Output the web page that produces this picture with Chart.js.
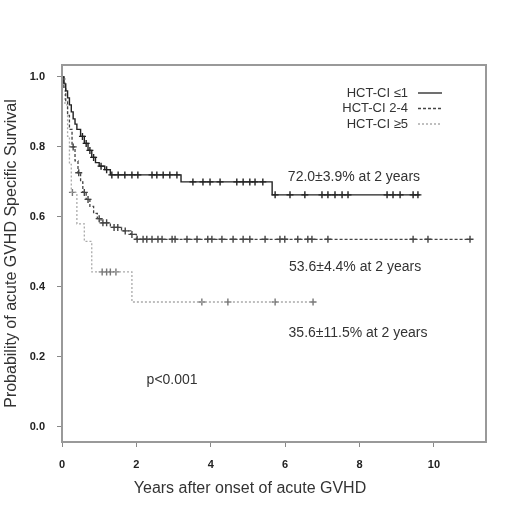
<!DOCTYPE html>
<html>
<head>
<meta charset="utf-8">
<script src="https://cdn.jsdelivr.net/npm/chart.js@4"></script>
<style>
  body { margin: 0; background: #fff; }
  #wrap { width: 520px; height: 520px; }
</style>
</head>
<body>
<div id="wrap"><canvas id="kmChart" width="520" height="520"></canvas></div>
<script>
// Kaplan-Meier: survie specifique GVHD par groupe HCT-CI
const groupes = ['HCT-CI \u22641', 'HCT-CI 2-4', 'HCT-CI \u22655'];

const temps1 = [0, 0.05, 0.1, 0.15, 0.2, 0.25, 0.3, 0.35, 0.4, 0.5, 0.6, 0.7, 0.8, 0.9, 1.0, 1.15, 1.3, 3.2, 5.65, 9.62];
const surv1  = [1.0, 0.98, 0.96, 0.94, 0.92, 0.90, 0.88, 0.865, 0.85, 0.83, 0.81, 0.79, 0.77, 0.755, 0.745, 0.735, 0.72, 0.70, 0.663, 0.663];
const censure1 = [0.55, 0.65, 0.75, 0.85, 1.05, 1.2, 1.34, 1.51, 1.69, 1.88, 2.04, 2.42, 2.55, 2.72, 2.9, 3.09,
  3.52, 3.79, 3.98, 4.25, 4.7, 4.87, 5.05, 5.19, 5.4,
  5.73, 6.13, 6.53, 6.99, 7.15, 7.34, 7.53, 7.69, 8.74, 8.9, 9.09, 9.44, 9.57];

const temps2 = [0, 0.05, 0.1, 0.15, 0.2, 0.27, 0.35, 0.43, 0.5, 0.56, 0.65, 0.75, 0.85, 0.95, 1.05, 1.3, 1.6, 1.85, 2.0, 10.97];
const surv2  = [1.0, 0.97, 0.93, 0.89, 0.85, 0.80, 0.76, 0.726, 0.70, 0.67, 0.65, 0.63, 0.61, 0.595, 0.583, 0.57, 0.56, 0.55, 0.536, 0.536];
const censure2 = [0.3, 0.45, 0.6, 0.7, 1.0, 1.1, 1.2, 1.4, 1.5, 1.7, 1.88, 2.02, 2.18, 2.28, 2.42, 2.58, 2.69, 2.96, 3.04,
  3.36, 3.63, 3.92, 4.03, 4.3, 4.6, 4.87, 5.05, 5.46, 5.86, 5.99, 6.34, 6.61, 6.72, 7.15, 9.44, 9.84, 10.97];

const temps3 = [0, 0.08, 0.15, 0.2, 0.25, 0.4, 0.6, 0.8, 1.88, 6.75];
const surv3  = [1.0, 0.92, 0.83, 0.75, 0.67, 0.58, 0.53, 0.443, 0.357, 0.357];
const censure3 = [0.28, 1.08, 1.2, 1.3, 1.45, 3.76, 4.46, 5.73, 6.75];

const xTicks = [0, 2, 4, 6, 8, 10];
const yTicks = [0, 0.2, 0.4, 0.6, 0.8, 1.0];

const titreX = 'Years after onset of acute GVHD';
const titreY = 'Probability of acute GVHD Specific Survival';

const annotations = [
  { text: '72.0\u00b13.9% at 2 years', x: 7.85, y: 0.714 },
  { text: '53.6\u00b14.4% at 2 years', x: 7.88, y: 0.457 },
  { text: '35.6\u00b111.5% at 2 years', x: 7.96, y: 0.269 },
  { text: 'p<0.001', x: 2.96, y: 0.134 }
];

const couleurs = ['#222222', '#444444', '#aaaaaa'];
const tirets = [[], [3, 2], [2, 2]];

// valeur de la courbe au temps t (fonction en escalier)
function valeurA(temps, surv, t) {
  let v = surv[0];
  for (let i = 0; i < temps.length; i++) {
    if (temps[i] <= t) v = surv[i];
  }
  return v;
}

const courbes = [[temps1, surv1, censure1], [temps2, surv2, censure2], [temps3, surv3, censure3]];
const datasets = [];
courbes.forEach(([t, s, c], i) => {
  datasets.push({
    label: groupes[i],
    data: t.map((x, k) => ({ x: x, y: s[k] })),
    borderColor: couleurs[i],
    borderWidth: i === 0 ? 1.4 : 1.3,
    borderDash: tirets[i],
    stepped: 'before',
    pointRadius: 0,
    fill: false,
    showLine: true
  });
  datasets.push({
    label: groupes[i] + ' censure',
    data: c.map(x => ({ x: x, y: valeurA(t, s, x) })),
    borderColor: i === 2 ? '#777777' : couleurs[i],
    borderWidth: 1.4,
    pointStyle: 'cross',
    pointRadius: 3.5,
    showLine: false
  });
});

const decorPlugin = {
  id: 'decor',
  afterDraw(chart) {
    const ctx = chart.ctx;
    const a = chart.chartArea;
    const xs = chart.scales.x, ys = chart.scales.y;
    ctx.save();
    // cadre
    ctx.strokeStyle = '#999999';
    ctx.lineWidth = 2;
    ctx.strokeRect(a.left, a.top, a.right - a.left, a.bottom - a.top);
    // annotations
    ctx.fillStyle = '#333333';
    ctx.font = '14px "Liberation Sans", Arial, sans-serif';
    ctx.textAlign = 'center';
    ctx.textBaseline = 'middle';
    annotations.forEach(n => {
      ctx.fillText(n.text, xs.getPixelForValue(n.x), ys.getPixelForValue(n.y));
    });
    // titre de l'axe x (decale comme dans l'original)
    ctx.font = '16px "Liberation Sans", Arial, sans-serif';
    ctx.fillText(titreX, 250, 489);
    // legende
    ctx.font = '13px "Liberation Sans", Arial, sans-serif';
    ctx.textAlign = 'right';
    groupes.forEach((g, i) => {
      const y = 93 + i * 15.5;
      ctx.fillStyle = '#333333';
      ctx.fillText(g, 408, y);
      ctx.beginPath();
      ctx.strokeStyle = couleurs[i];
      ctx.lineWidth = 1.3;
      ctx.setLineDash(tirets[i]);
      ctx.moveTo(418, y);
      ctx.lineTo(442, y);
      ctx.stroke();
    });
    ctx.restore();
  }
};

const ctx = document.getElementById('kmChart').getContext('2d');
new Chart(ctx, {
  type: 'scatter',
  data: { datasets: datasets },
  options: {
    responsive: false,
    animation: false,
    layout: { padding: { left: 0, top: 65, right: 34, bottom: 20 } },
    plugins: {
      legend: { display: false },
      tooltip: { enabled: false }
    },
    scales: {
      x: {
        type: 'linear',
        min: 0,
        max: 11.4,
        afterBuildTicks: s => { s.ticks = xTicks.map(v => ({ value: v })); },
        afterFit: s => { s.height = 58; },
        border: { display: false },
        grid: { drawOnChartArea: false, tickLength: 5, color: '#888888' },
        ticks: {
          padding: 11,
          color: '#222222',
          font: { family: '"Liberation Sans", Arial, sans-serif', size: 11, weight: 'bold' },
          callback: v => v
        },
        title: { display: false }
      },
      y: {
        type: 'linear',
        min: -0.043,
        max: 1.034,
        afterBuildTicks: s => { s.ticks = yTicks.map(v => ({ value: v })); },
        afterFit: s => { s.width = 62; },
        border: { display: false },
        grid: { drawOnChartArea: false, tickLength: 5, color: '#888888' },
        ticks: {
          padding: 12,
          color: '#222222',
          font: { family: '"Liberation Sans", Arial, sans-serif', size: 11, weight: 'bold' },
          callback: v => v.toFixed(1)
        },
        title: {
          display: true,
          text: titreY,
          color: '#333333',
          padding: { top: 2, bottom: 0 },
          font: { family: '"Liberation Sans", Arial, sans-serif', size: 16 }
        }
      }
    }
  },
  plugins: [decorPlugin]
});
</script>
</body>
</html>
